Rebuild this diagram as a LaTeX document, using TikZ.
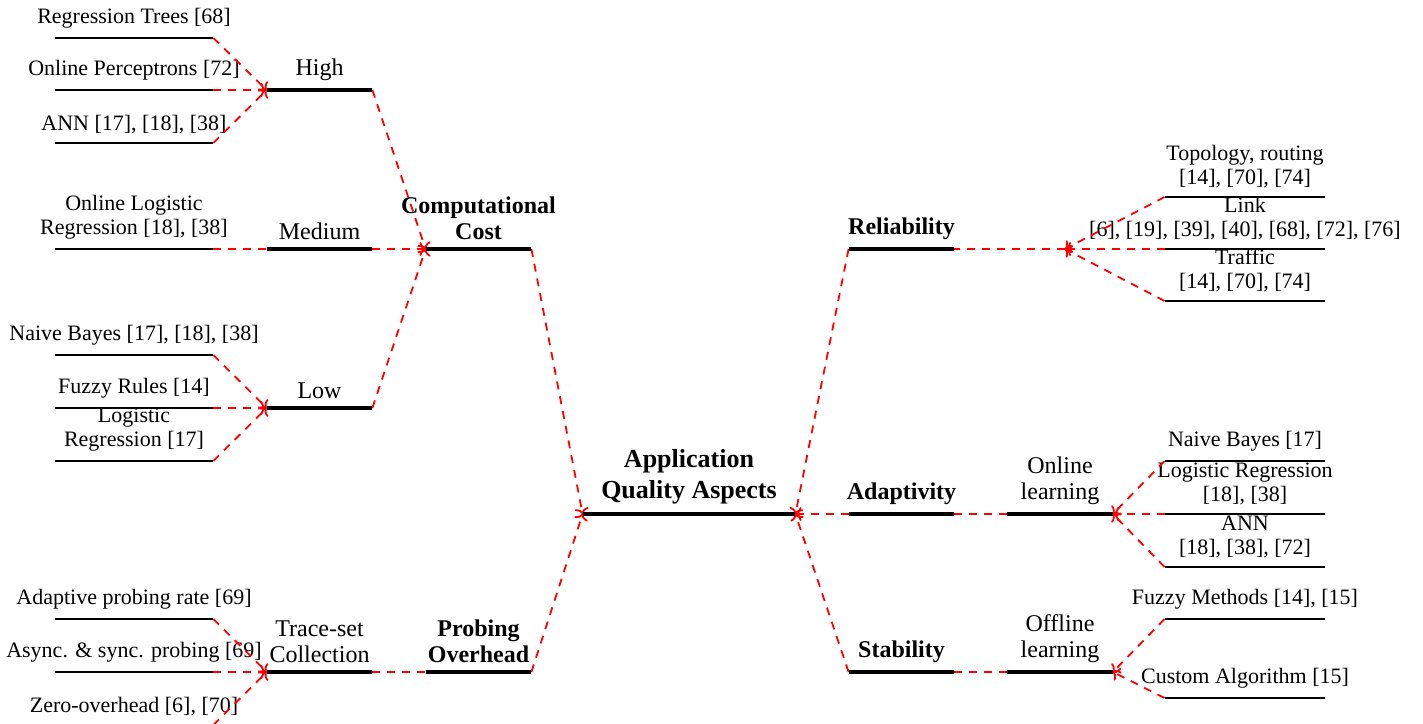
\documentclass[tikz,border=0pt]{standalone}
\usepackage{fontspec}
\setmainfont{Liberation Serif}
\usetikzlibrary{positioning,arrows.meta}

\tikzset{
  leafbar/.style={inner sep=0pt, minimum height=0pt, minimum width=79pt},
  rleafbar/.style={inner sep=0pt, minimum height=0pt, minimum width=80pt},
  catbar/.style={inner sep=0pt, minimum height=0pt, minimum width=52.5pt},
  appbar/.style={inner sep=0pt, minimum height=0pt, minimum width=106pt},
  thinline/.style={line width=0.9pt},
  thickline/.style={line width=2pt},
  link/.style={red, line width=0.9pt, dash pattern=on 4pt off 3.5pt},
  >={To[length=3pt, width=7pt]},
  leaftext/.style={align=center, font=\fontsize{11}{12}\selectfont},
  midtext/.style={align=center, font=\fontsize{12}{13}\selectfont},
  cattext/.style={align=center, font=\fontsize{12}{13}\selectfont\bfseries},
  apptext/.style={align=center, font=\fontsize{13}{15.5}\selectfont\bfseries},
}

\begin{document}
\begin{tikzpicture}[x=0.5pt, y=0.5pt]
\useasboundingbox (0,0) rectangle (1423,723);

% Bars, left leaves
\node[leafbar] (rt) at (134,685) {};
\node[leafbar] (op) at (134,633) {};
\node[leafbar] (ann) at (134,580) {};
\node[leafbar] (olr) at (134,474) {};
\node[leafbar] (nb) at (134,368) {};
\node[leafbar] (fr) at (134,315) {};
\node[leafbar] (lr) at (134,262) {};
\node[leafbar] (apr) at (134,104) {};
\node[leafbar] (asp) at (134,51) {};
\node[leafbar] (zo) at (134,-2) {};
% Bars, categories
\node[catbar] (high) at (319.5,633) {};
\node[catbar] (medium) at (319.5,474) {};
\node[catbar] (low) at (319.5,315) {};
\node[catbar] (trace) at (319.5,51) {};
\node[catbar] (comp) at (478.5,474) {};
\node[catbar] (probe) at (478.5,51) {};
\node[appbar] (app) at (689,209) {};
\node[catbar] (rel) at (901.5,474) {};
\node[catbar] (adapt) at (901.5,209) {};
\node[catbar] (stab) at (901.5,51) {};
\node[catbar] (online) at (1060,209) {};
\node[catbar] (offline) at (1060,51) {};
% Bars, right leaves
\node[rleafbar] (topo) at (1245,526) {};
\node[rleafbar] (link) at (1245,474) {};
\node[rleafbar] (traffic) at (1245,422) {};
\node[rleafbar] (nbr) at (1245,262) {};
\node[rleafbar] (lrr) at (1245,209) {};
\node[rleafbar] (annr) at (1245,156) {};
\node[rleafbar] (fuzzy) at (1245,104) {};
\node[rleafbar] (custom) at (1245,25) {};
\coordinate (hub) at (1065,474);

% Texts
\node[leaftext, above=1pt of rt] (rt-t) {Regression Trees [68]};
\node[leaftext, above=1pt of op] (op-t) {Online Perceptrons [72]};
\node[leaftext, above=1pt of ann] (ann-t) {ANN [17], [18], [38]};
\node[leaftext, above=1pt of olr] (olr-t) {Online Logistic\\Regression [18], [38]};
\node[leaftext, above=1pt of nb] (nb-t) {Naive Bayes [17], [18], [38]};
\node[leaftext, above=1pt of fr] (fr-t) {Fuzzy Rules [14]};
\node[leaftext, above=1pt of lr] (lr-t) {Logistic\\Regression [17]};
\node[leaftext, above=1pt of apr] (apr-t) {Adaptive probing rate [69]};
\node[leaftext, above=1pt of asp] (asp-t) {Async. \& sync. probing [69]};
\node[leaftext, above=1pt of zo] (zo-t) {Zero-overhead [6], [70]};
\node[midtext, above=1pt of high] (high-t) {High};
\node[midtext, above=1pt of medium] (medium-t) {Medium};
\node[midtext, above=1pt of low] (low-t) {Low};
\node[midtext, above=1pt of trace] (trace-t) {Trace-set\\Collection};
\node[cattext, above=1pt of comp] (comp-t) {Computational\\Cost};
\node[cattext, above=1pt of probe] (probe-t) {Probing\\Overhead};
\node[apptext, above=1pt of app] (app-t) {Application\\Quality Aspects};
\node[cattext, above=1pt of rel] (rel-t) {Reliability};
\node[cattext, above=1pt of adapt] (adapt-t) {Adaptivity};
\node[cattext, above=1pt of stab] (stab-t) {Stability};
\node[midtext, above=1pt of online] (online-t) {Online\\learning};
\node[midtext, above=1pt of offline] (offline-t) {Offline\\learning};
\node[leaftext, above=1pt of topo] (topo-t) {Topology, routing\\{}[14], [70], [74]};
\node[leaftext, above=1pt of link] (link-t) {Link\\{}[6], [19], [39], [40], [68], [72], [76]};
\node[leaftext, above=1pt of traffic] (traffic-t) {Traffic\\{}[14], [70], [74]};
\node[leaftext, above=1pt of nbr] (nbr-t) {Naive Bayes [17]};
\node[leaftext, above=1pt of lrr] (lrr-t) {Logistic Regression\\{}[18], [38]};
\node[leaftext, above=1pt of annr] (annr-t) {ANN\\{}[18], [38], [72]};
\node[leaftext, above=1pt of fuzzy] (fuzzy-t) {Fuzzy Methods [14], [15]};
\node[leaftext, above=1pt of custom] (custom-t) {Custom Algorithm [15]};

% Links
\foreach \a in {rt,op,ann} \draw[link,->] (\a.east) -- (high.west);
\draw[link] (olr.east) -- (medium.west);
\foreach \a in {nb,fr,lr} \draw[link,->] (\a.east) -- (low.west);
\foreach \a in {apr,asp,zo} \draw[link,->] (\a.east) -- (trace.west);
\foreach \a in {high,medium,low} \draw[link,->] (\a.east) -- (comp.west);
\draw[link] (trace.east) -- (probe.west);
\foreach \a in {comp,probe} \draw[link,->] (\a.east) -- (app.west);
\foreach \a in {rel,adapt,stab} \draw[link,->] (\a.west) -- (app.east);
\foreach \a in {topo,link,traffic} \draw[link,->] (\a.west) -- (hub);
\draw[link] (hub) -- (rel.east);
\draw[link] (online.west) -- (adapt.east);
\draw[link] (offline.west) -- (stab.east);
\foreach \a in {nbr,lrr,annr} \draw[link,->] (\a.west) -- (online.east);
\foreach \a in {fuzzy,custom} \draw[link,->] (\a.west) -- (offline.east);

% Bars on top
\foreach \n in {rt,op,ann,olr,nb,fr,lr,apr,asp,zo,topo,link,traffic,nbr,lrr,annr,fuzzy,custom}
  \draw[thinline] (\n.west) -- (\n.east);
\foreach \n in {high,medium,low,trace,comp,probe,app,rel,adapt,stab,online,offline}
  \draw[thickline] (\n.west) -- (\n.east);
\end{tikzpicture}
\end{document}
